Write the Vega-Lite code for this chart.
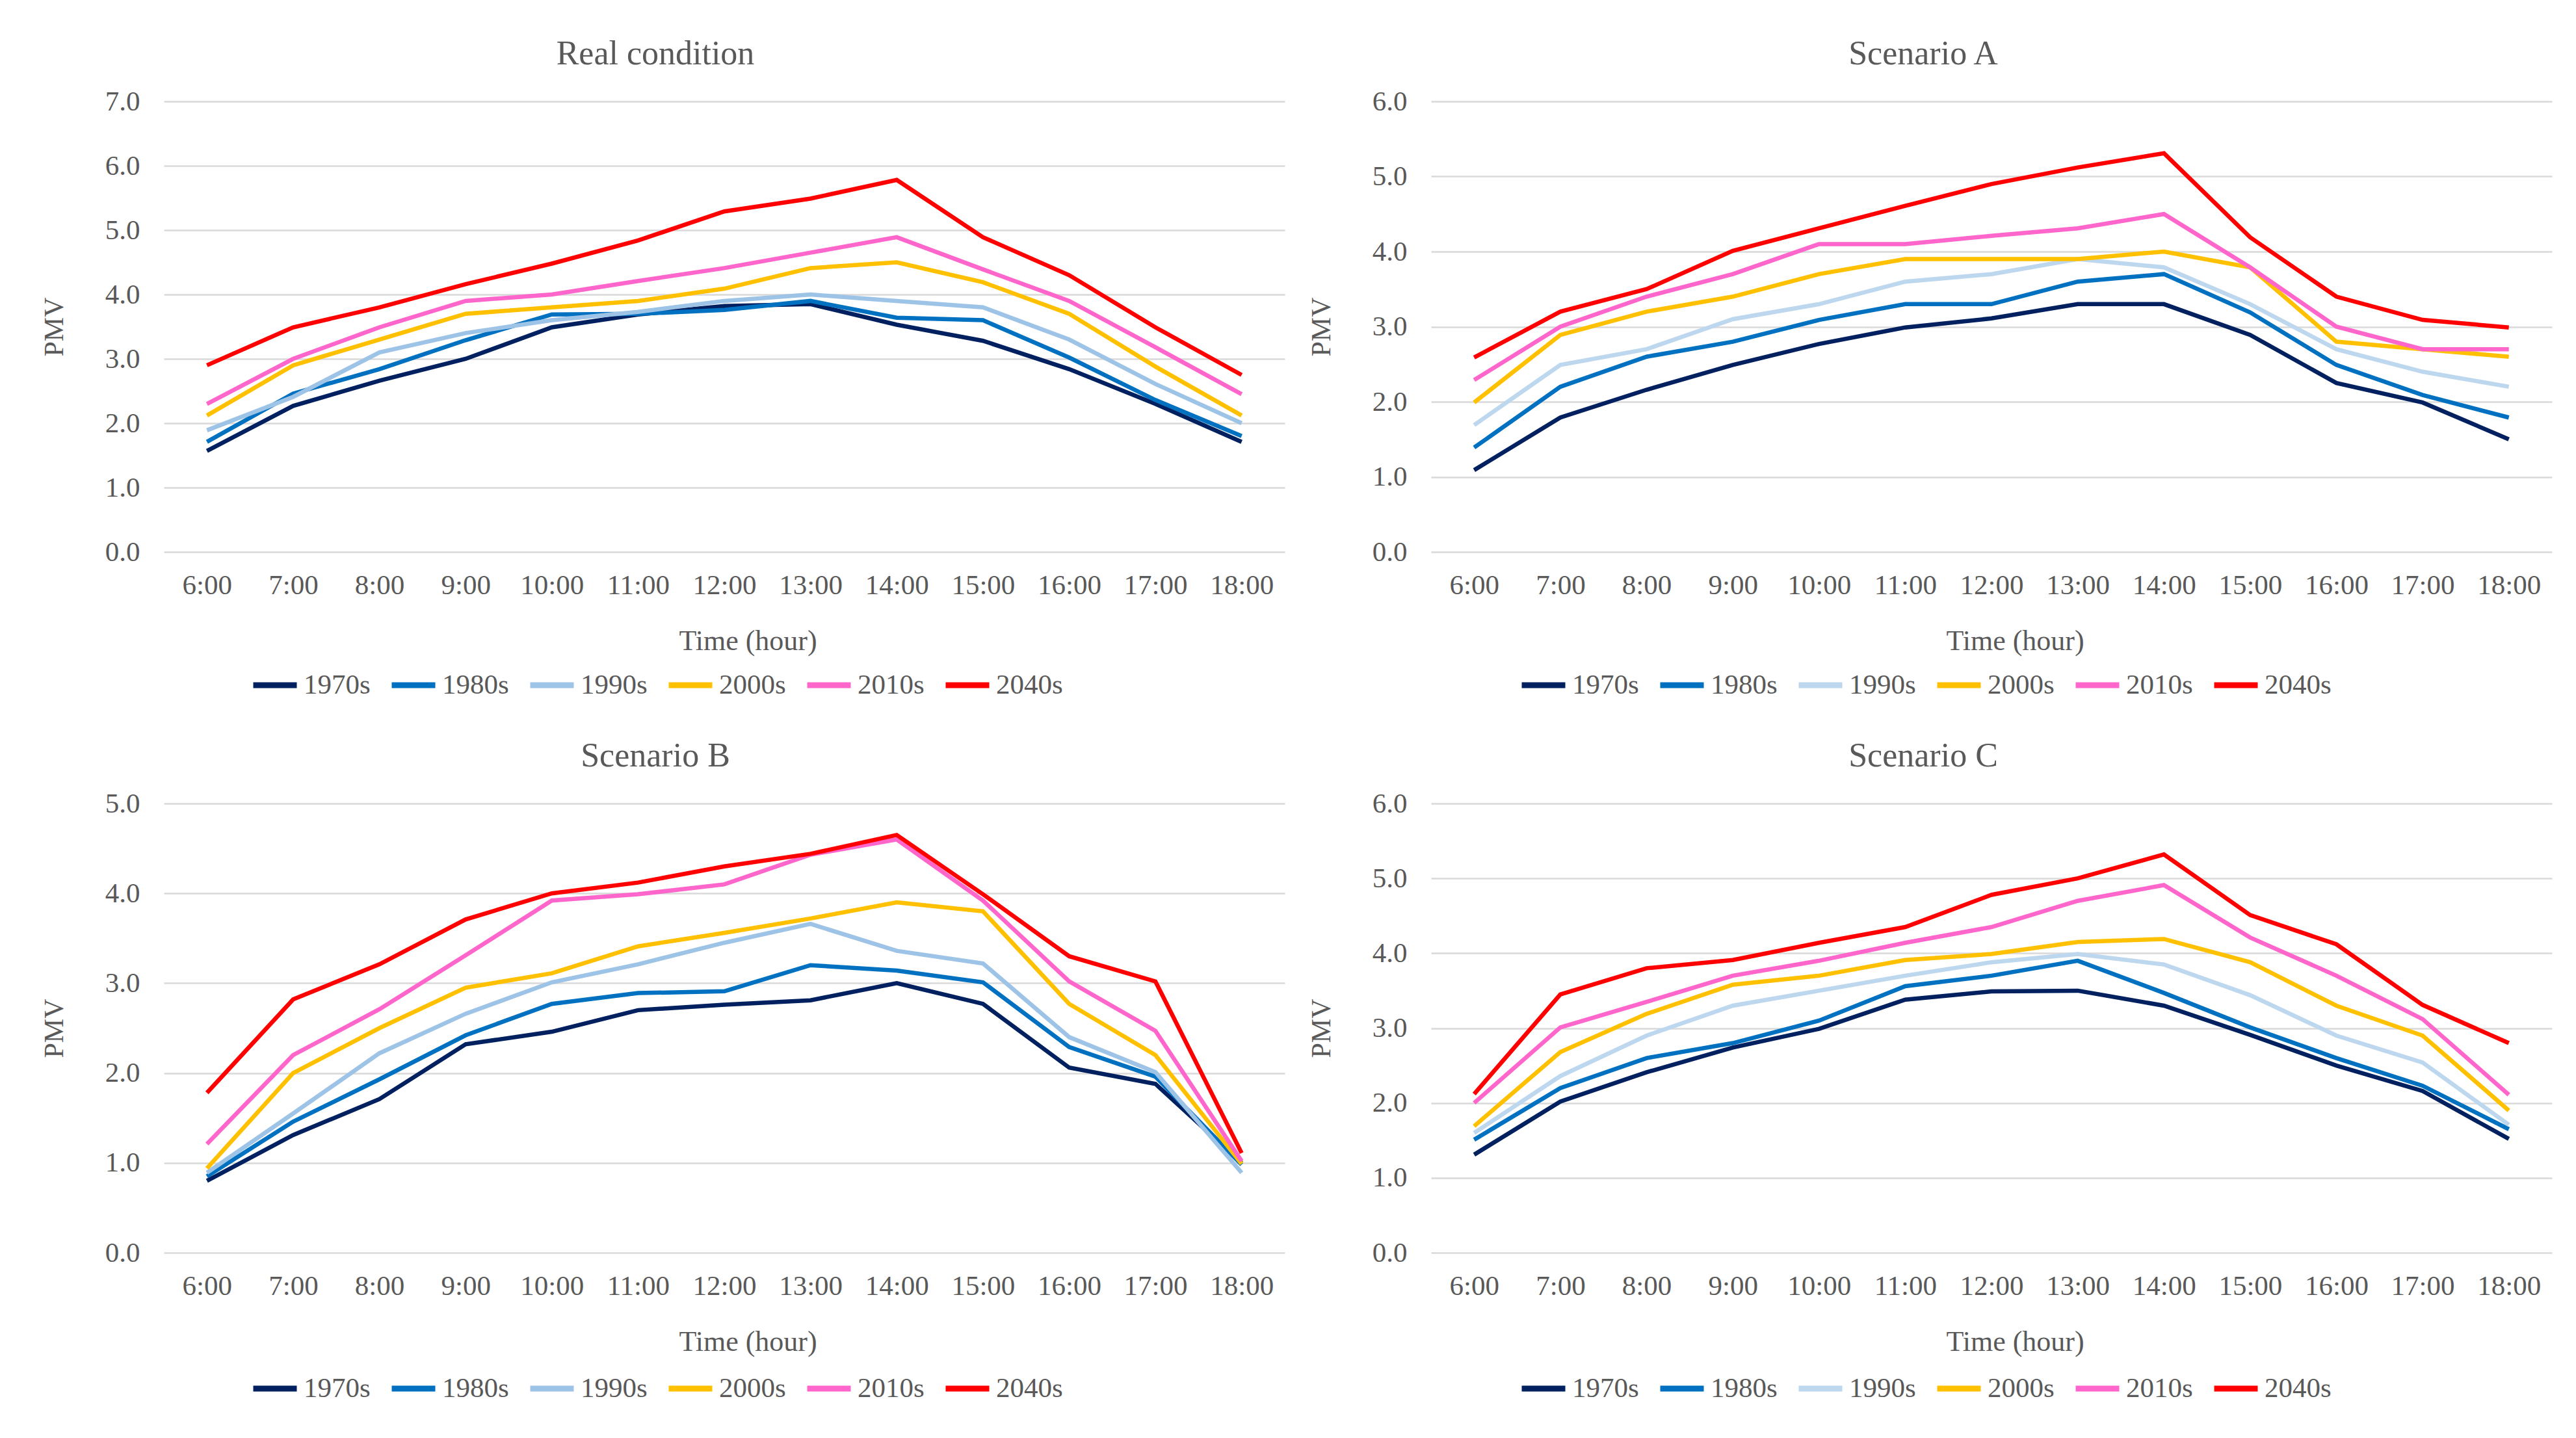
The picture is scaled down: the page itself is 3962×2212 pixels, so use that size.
{
"$schema": "https://vega.github.io/schema/vega-lite/v6.json",
"background": "white",
"padding": {"left": 62, "top": 57, "right": 5, "bottom": 5},
"spacing": 61,
"datasets": {"d": [
{"panel":"R","decade":"1970s","time":"6:00","pmv":1.57},{"panel":"R","decade":"1970s","time":"7:00","pmv":2.27},{"panel":"R","decade":"1970s","time":"8:00","pmv":2.66},{"panel":"R","decade":"1970s","time":"9:00","pmv":3.0},{"panel":"R","decade":"1970s","time":"10:00","pmv":3.49},{"panel":"R","decade":"1970s","time":"11:00","pmv":3.69},{"panel":"R","decade":"1970s","time":"12:00","pmv":3.82},{"panel":"R","decade":"1970s","time":"13:00","pmv":3.85},{"panel":"R","decade":"1970s","time":"14:00","pmv":3.53},{"panel":"R","decade":"1970s","time":"15:00","pmv":3.28},{"panel":"R","decade":"1970s","time":"16:00","pmv":2.84},{"panel":"R","decade":"1970s","time":"17:00","pmv":2.3},{"panel":"R","decade":"1970s","time":"18:00","pmv":1.71},
{"panel":"R","decade":"1980s","time":"6:00","pmv":1.71},{"panel":"R","decade":"1980s","time":"7:00","pmv":2.46},{"panel":"R","decade":"1980s","time":"8:00","pmv":2.84},{"panel":"R","decade":"1980s","time":"9:00","pmv":3.29},{"panel":"R","decade":"1980s","time":"10:00","pmv":3.69},{"panel":"R","decade":"1980s","time":"11:00","pmv":3.7},{"panel":"R","decade":"1980s","time":"12:00","pmv":3.76},{"panel":"R","decade":"1980s","time":"13:00","pmv":3.9},{"panel":"R","decade":"1980s","time":"14:00","pmv":3.64},{"panel":"R","decade":"1980s","time":"15:00","pmv":3.6},{"panel":"R","decade":"1980s","time":"16:00","pmv":3.02},{"panel":"R","decade":"1980s","time":"17:00","pmv":2.36},{"panel":"R","decade":"1980s","time":"18:00","pmv":1.8},
{"panel":"R","decade":"1990s","time":"6:00","pmv":1.89},{"panel":"R","decade":"1990s","time":"7:00","pmv":2.41},{"panel":"R","decade":"1990s","time":"8:00","pmv":3.1},{"panel":"R","decade":"1990s","time":"9:00","pmv":3.4},{"panel":"R","decade":"1990s","time":"10:00","pmv":3.6},{"panel":"R","decade":"1990s","time":"11:00","pmv":3.73},{"panel":"R","decade":"1990s","time":"12:00","pmv":3.9},{"panel":"R","decade":"1990s","time":"13:00","pmv":4.0},{"panel":"R","decade":"1990s","time":"14:00","pmv":3.9},{"panel":"R","decade":"1990s","time":"15:00","pmv":3.8},{"panel":"R","decade":"1990s","time":"16:00","pmv":3.3},{"panel":"R","decade":"1990s","time":"17:00","pmv":2.61},{"panel":"R","decade":"1990s","time":"18:00","pmv":2.0},
{"panel":"R","decade":"2000s","time":"6:00","pmv":2.12},{"panel":"R","decade":"2000s","time":"7:00","pmv":2.9},{"panel":"R","decade":"2000s","time":"8:00","pmv":3.3},{"panel":"R","decade":"2000s","time":"9:00","pmv":3.7},{"panel":"R","decade":"2000s","time":"10:00","pmv":3.8},{"panel":"R","decade":"2000s","time":"11:00","pmv":3.9},{"panel":"R","decade":"2000s","time":"12:00","pmv":4.09},{"panel":"R","decade":"2000s","time":"13:00","pmv":4.41},{"panel":"R","decade":"2000s","time":"14:00","pmv":4.5},{"panel":"R","decade":"2000s","time":"15:00","pmv":4.19},{"panel":"R","decade":"2000s","time":"16:00","pmv":3.7},{"panel":"R","decade":"2000s","time":"17:00","pmv":2.88},{"panel":"R","decade":"2000s","time":"18:00","pmv":2.12},
{"panel":"R","decade":"2010s","time":"6:00","pmv":2.3},{"panel":"R","decade":"2010s","time":"7:00","pmv":3.0},{"panel":"R","decade":"2010s","time":"8:00","pmv":3.49},{"panel":"R","decade":"2010s","time":"9:00","pmv":3.9},{"panel":"R","decade":"2010s","time":"10:00","pmv":4.0},{"panel":"R","decade":"2010s","time":"11:00","pmv":4.21},{"panel":"R","decade":"2010s","time":"12:00","pmv":4.41},{"panel":"R","decade":"2010s","time":"13:00","pmv":4.65},{"panel":"R","decade":"2010s","time":"14:00","pmv":4.89},{"panel":"R","decade":"2010s","time":"15:00","pmv":4.39},{"panel":"R","decade":"2010s","time":"16:00","pmv":3.9},{"panel":"R","decade":"2010s","time":"17:00","pmv":3.18},{"panel":"R","decade":"2010s","time":"18:00","pmv":2.45},
{"panel":"R","decade":"2040s","time":"6:00","pmv":2.9},{"panel":"R","decade":"2040s","time":"7:00","pmv":3.49},{"panel":"R","decade":"2040s","time":"8:00","pmv":3.8},{"panel":"R","decade":"2040s","time":"9:00","pmv":4.16},{"panel":"R","decade":"2040s","time":"10:00","pmv":4.48},{"panel":"R","decade":"2040s","time":"11:00","pmv":4.84},{"panel":"R","decade":"2040s","time":"12:00","pmv":5.29},{"panel":"R","decade":"2040s","time":"13:00","pmv":5.49},{"panel":"R","decade":"2040s","time":"14:00","pmv":5.78},{"panel":"R","decade":"2040s","time":"15:00","pmv":4.89},{"panel":"R","decade":"2040s","time":"16:00","pmv":4.3},{"panel":"R","decade":"2040s","time":"17:00","pmv":3.49},{"panel":"R","decade":"2040s","time":"18:00","pmv":2.75},
{"panel":"A","decade":"1970s","time":"6:00","pmv":1.09},{"panel":"A","decade":"1970s","time":"7:00","pmv":1.79},{"panel":"A","decade":"1970s","time":"8:00","pmv":2.16},{"panel":"A","decade":"1970s","time":"9:00","pmv":2.49},{"panel":"A","decade":"1970s","time":"10:00","pmv":2.77},{"panel":"A","decade":"1970s","time":"11:00","pmv":2.99},{"panel":"A","decade":"1970s","time":"12:00","pmv":3.11},{"panel":"A","decade":"1970s","time":"13:00","pmv":3.3},{"panel":"A","decade":"1970s","time":"14:00","pmv":3.3},{"panel":"A","decade":"1970s","time":"15:00","pmv":2.89},{"panel":"A","decade":"1970s","time":"16:00","pmv":2.25},{"panel":"A","decade":"1970s","time":"17:00","pmv":1.99},{"panel":"A","decade":"1970s","time":"18:00","pmv":1.5},
{"panel":"A","decade":"1980s","time":"6:00","pmv":1.39},{"panel":"A","decade":"1980s","time":"7:00","pmv":2.2},{"panel":"A","decade":"1980s","time":"8:00","pmv":2.6},{"panel":"A","decade":"1980s","time":"9:00","pmv":2.8},{"panel":"A","decade":"1980s","time":"10:00","pmv":3.09},{"panel":"A","decade":"1980s","time":"11:00","pmv":3.3},{"panel":"A","decade":"1980s","time":"12:00","pmv":3.3},{"panel":"A","decade":"1980s","time":"13:00","pmv":3.6},{"panel":"A","decade":"1980s","time":"14:00","pmv":3.7},{"panel":"A","decade":"1980s","time":"15:00","pmv":3.19},{"panel":"A","decade":"1980s","time":"16:00","pmv":2.49},{"panel":"A","decade":"1980s","time":"17:00","pmv":2.09},{"panel":"A","decade":"1980s","time":"18:00","pmv":1.79},
{"panel":"A","decade":"1990s","time":"6:00","pmv":1.69},{"panel":"A","decade":"1990s","time":"7:00","pmv":2.49},{"panel":"A","decade":"1990s","time":"8:00","pmv":2.7},{"panel":"A","decade":"1990s","time":"9:00","pmv":3.1},{"panel":"A","decade":"1990s","time":"10:00","pmv":3.3},{"panel":"A","decade":"1990s","time":"11:00","pmv":3.6},{"panel":"A","decade":"1990s","time":"12:00","pmv":3.7},{"panel":"A","decade":"1990s","time":"13:00","pmv":3.9},{"panel":"A","decade":"1990s","time":"14:00","pmv":3.79},{"panel":"A","decade":"1990s","time":"15:00","pmv":3.3},{"panel":"A","decade":"1990s","time":"16:00","pmv":2.7},{"panel":"A","decade":"1990s","time":"17:00","pmv":2.4},{"panel":"A","decade":"1990s","time":"18:00","pmv":2.2},
{"panel":"A","decade":"2000s","time":"6:00","pmv":1.99},{"panel":"A","decade":"2000s","time":"7:00","pmv":2.89},{"panel":"A","decade":"2000s","time":"8:00","pmv":3.2},{"panel":"A","decade":"2000s","time":"9:00","pmv":3.4},{"panel":"A","decade":"2000s","time":"10:00","pmv":3.7},{"panel":"A","decade":"2000s","time":"11:00","pmv":3.9},{"panel":"A","decade":"2000s","time":"12:00","pmv":3.9},{"panel":"A","decade":"2000s","time":"13:00","pmv":3.9},{"panel":"A","decade":"2000s","time":"14:00","pmv":4.0},{"panel":"A","decade":"2000s","time":"15:00","pmv":3.79},{"panel":"A","decade":"2000s","time":"16:00","pmv":2.8},{"panel":"A","decade":"2000s","time":"17:00","pmv":2.7},{"panel":"A","decade":"2000s","time":"18:00","pmv":2.6},
{"panel":"A","decade":"2010s","time":"6:00","pmv":2.29},{"panel":"A","decade":"2010s","time":"7:00","pmv":3.0},{"panel":"A","decade":"2010s","time":"8:00","pmv":3.4},{"panel":"A","decade":"2010s","time":"9:00","pmv":3.7},{"panel":"A","decade":"2010s","time":"10:00","pmv":4.1},{"panel":"A","decade":"2010s","time":"11:00","pmv":4.1},{"panel":"A","decade":"2010s","time":"12:00","pmv":4.21},{"panel":"A","decade":"2010s","time":"13:00","pmv":4.31},{"panel":"A","decade":"2010s","time":"14:00","pmv":4.5},{"panel":"A","decade":"2010s","time":"15:00","pmv":3.79},{"panel":"A","decade":"2010s","time":"16:00","pmv":3.0},{"panel":"A","decade":"2010s","time":"17:00","pmv":2.7},{"panel":"A","decade":"2010s","time":"18:00","pmv":2.7},
{"panel":"A","decade":"2040s","time":"6:00","pmv":2.59},{"panel":"A","decade":"2040s","time":"7:00","pmv":3.2},{"panel":"A","decade":"2040s","time":"8:00","pmv":3.5},{"panel":"A","decade":"2040s","time":"9:00","pmv":4.01},{"panel":"A","decade":"2040s","time":"10:00","pmv":4.31},{"panel":"A","decade":"2040s","time":"11:00","pmv":4.61},{"panel":"A","decade":"2040s","time":"12:00","pmv":4.9},{"panel":"A","decade":"2040s","time":"13:00","pmv":5.12},{"panel":"A","decade":"2040s","time":"14:00","pmv":5.31},{"panel":"A","decade":"2040s","time":"15:00","pmv":4.19},{"panel":"A","decade":"2040s","time":"16:00","pmv":3.4},{"panel":"A","decade":"2040s","time":"17:00","pmv":3.09},{"panel":"A","decade":"2040s","time":"18:00","pmv":2.99},
{"panel":"B","decade":"1970s","time":"6:00","pmv":0.8},{"panel":"B","decade":"1970s","time":"7:00","pmv":1.31},{"panel":"B","decade":"1970s","time":"8:00","pmv":1.71},{"panel":"B","decade":"1970s","time":"9:00","pmv":2.32},{"panel":"B","decade":"1970s","time":"10:00","pmv":2.46},{"panel":"B","decade":"1970s","time":"11:00","pmv":2.7},{"panel":"B","decade":"1970s","time":"12:00","pmv":2.76},{"panel":"B","decade":"1970s","time":"13:00","pmv":2.81},{"panel":"B","decade":"1970s","time":"14:00","pmv":3.0},{"panel":"B","decade":"1970s","time":"15:00","pmv":2.77},{"panel":"B","decade":"1970s","time":"16:00","pmv":2.06},{"panel":"B","decade":"1970s","time":"17:00","pmv":1.88},{"panel":"B","decade":"1970s","time":"18:00","pmv":1.0},
{"panel":"B","decade":"1980s","time":"6:00","pmv":0.85},{"panel":"B","decade":"1980s","time":"7:00","pmv":1.46},{"panel":"B","decade":"1980s","time":"8:00","pmv":1.93},{"panel":"B","decade":"1980s","time":"9:00","pmv":2.42},{"panel":"B","decade":"1980s","time":"10:00","pmv":2.77},{"panel":"B","decade":"1980s","time":"11:00","pmv":2.89},{"panel":"B","decade":"1980s","time":"12:00","pmv":2.91},{"panel":"B","decade":"1980s","time":"13:00","pmv":3.2},{"panel":"B","decade":"1980s","time":"14:00","pmv":3.14},{"panel":"B","decade":"1980s","time":"15:00","pmv":3.01},{"panel":"B","decade":"1980s","time":"16:00","pmv":2.29},{"panel":"B","decade":"1980s","time":"17:00","pmv":1.96},{"panel":"B","decade":"1980s","time":"18:00","pmv":0.98},
{"panel":"B","decade":"1990s","time":"6:00","pmv":0.89},{"panel":"B","decade":"1990s","time":"7:00","pmv":1.55},{"panel":"B","decade":"1990s","time":"8:00","pmv":2.22},{"panel":"B","decade":"1990s","time":"9:00","pmv":2.66},{"panel":"B","decade":"1990s","time":"10:00","pmv":3.01},{"panel":"B","decade":"1990s","time":"11:00","pmv":3.21},{"panel":"B","decade":"1990s","time":"12:00","pmv":3.45},{"panel":"B","decade":"1990s","time":"13:00","pmv":3.66},{"panel":"B","decade":"1990s","time":"14:00","pmv":3.36},{"panel":"B","decade":"1990s","time":"15:00","pmv":3.22},{"panel":"B","decade":"1990s","time":"16:00","pmv":2.4},{"panel":"B","decade":"1990s","time":"17:00","pmv":2.01},{"panel":"B","decade":"1990s","time":"18:00","pmv":0.89},
{"panel":"B","decade":"2000s","time":"6:00","pmv":0.94},{"panel":"B","decade":"2000s","time":"7:00","pmv":2.0},{"panel":"B","decade":"2000s","time":"8:00","pmv":2.5},{"panel":"B","decade":"2000s","time":"9:00","pmv":2.95},{"panel":"B","decade":"2000s","time":"10:00","pmv":3.11},{"panel":"B","decade":"2000s","time":"11:00","pmv":3.41},{"panel":"B","decade":"2000s","time":"12:00","pmv":3.56},{"panel":"B","decade":"2000s","time":"13:00","pmv":3.72},{"panel":"B","decade":"2000s","time":"14:00","pmv":3.9},{"panel":"B","decade":"2000s","time":"15:00","pmv":3.8},{"panel":"B","decade":"2000s","time":"16:00","pmv":2.77},{"panel":"B","decade":"2000s","time":"17:00","pmv":2.2},{"panel":"B","decade":"2000s","time":"18:00","pmv":0.99},
{"panel":"B","decade":"2010s","time":"6:00","pmv":1.21},{"panel":"B","decade":"2010s","time":"7:00","pmv":2.2},{"panel":"B","decade":"2010s","time":"8:00","pmv":2.71},{"panel":"B","decade":"2010s","time":"9:00","pmv":3.31},{"panel":"B","decade":"2010s","time":"10:00","pmv":3.92},{"panel":"B","decade":"2010s","time":"11:00","pmv":3.99},{"panel":"B","decade":"2010s","time":"12:00","pmv":4.1},{"panel":"B","decade":"2010s","time":"13:00","pmv":4.43},{"panel":"B","decade":"2010s","time":"14:00","pmv":4.6},{"panel":"B","decade":"2010s","time":"15:00","pmv":3.92},{"panel":"B","decade":"2010s","time":"16:00","pmv":3.02},{"panel":"B","decade":"2010s","time":"17:00","pmv":2.47},{"panel":"B","decade":"2010s","time":"18:00","pmv":1.02},
{"panel":"B","decade":"2040s","time":"6:00","pmv":1.78},{"panel":"B","decade":"2040s","time":"7:00","pmv":2.82},{"panel":"B","decade":"2040s","time":"8:00","pmv":3.21},{"panel":"B","decade":"2040s","time":"9:00","pmv":3.71},{"panel":"B","decade":"2040s","time":"10:00","pmv":4.0},{"panel":"B","decade":"2040s","time":"11:00","pmv":4.12},{"panel":"B","decade":"2040s","time":"12:00","pmv":4.3},{"panel":"B","decade":"2040s","time":"13:00","pmv":4.44},{"panel":"B","decade":"2040s","time":"14:00","pmv":4.65},{"panel":"B","decade":"2040s","time":"15:00","pmv":3.99},{"panel":"B","decade":"2040s","time":"16:00","pmv":3.3},{"panel":"B","decade":"2040s","time":"17:00","pmv":3.02},{"panel":"B","decade":"2040s","time":"18:00","pmv":1.11},
{"panel":"C","decade":"1970s","time":"6:00","pmv":1.31},{"panel":"C","decade":"1970s","time":"7:00","pmv":2.02},{"panel":"C","decade":"1970s","time":"8:00","pmv":2.41},{"panel":"C","decade":"1970s","time":"9:00","pmv":2.74},{"panel":"C","decade":"1970s","time":"10:00","pmv":2.99},{"panel":"C","decade":"1970s","time":"11:00","pmv":3.38},{"panel":"C","decade":"1970s","time":"12:00","pmv":3.49},{"panel":"C","decade":"1970s","time":"13:00","pmv":3.5},{"panel":"C","decade":"1970s","time":"14:00","pmv":3.3},{"panel":"C","decade":"1970s","time":"15:00","pmv":2.91},{"panel":"C","decade":"1970s","time":"16:00","pmv":2.5},{"panel":"C","decade":"1970s","time":"17:00","pmv":2.16},{"panel":"C","decade":"1970s","time":"18:00","pmv":1.52},
{"panel":"C","decade":"1980s","time":"6:00","pmv":1.51},{"panel":"C","decade":"1980s","time":"7:00","pmv":2.2},{"panel":"C","decade":"1980s","time":"8:00","pmv":2.6},{"panel":"C","decade":"1980s","time":"9:00","pmv":2.8},{"panel":"C","decade":"1980s","time":"10:00","pmv":3.1},{"panel":"C","decade":"1980s","time":"11:00","pmv":3.56},{"panel":"C","decade":"1980s","time":"12:00","pmv":3.7},{"panel":"C","decade":"1980s","time":"13:00","pmv":3.9},{"panel":"C","decade":"1980s","time":"14:00","pmv":3.47},{"panel":"C","decade":"1980s","time":"15:00","pmv":3.01},{"panel":"C","decade":"1980s","time":"16:00","pmv":2.6},{"panel":"C","decade":"1980s","time":"17:00","pmv":2.23},{"panel":"C","decade":"1980s","time":"18:00","pmv":1.65},
{"panel":"C","decade":"1990s","time":"6:00","pmv":1.6},{"panel":"C","decade":"1990s","time":"7:00","pmv":2.36},{"panel":"C","decade":"1990s","time":"8:00","pmv":2.9},{"panel":"C","decade":"1990s","time":"9:00","pmv":3.3},{"panel":"C","decade":"1990s","time":"10:00","pmv":3.5},{"panel":"C","decade":"1990s","time":"11:00","pmv":3.7},{"panel":"C","decade":"1990s","time":"12:00","pmv":3.88},{"panel":"C","decade":"1990s","time":"13:00","pmv":3.99},{"panel":"C","decade":"1990s","time":"14:00","pmv":3.85},{"panel":"C","decade":"1990s","time":"15:00","pmv":3.44},{"panel":"C","decade":"1990s","time":"16:00","pmv":2.9},{"panel":"C","decade":"1990s","time":"17:00","pmv":2.54},{"panel":"C","decade":"1990s","time":"18:00","pmv":1.71},
{"panel":"C","decade":"2000s","time":"6:00","pmv":1.69},{"panel":"C","decade":"2000s","time":"7:00","pmv":2.68},{"panel":"C","decade":"2000s","time":"8:00","pmv":3.19},{"panel":"C","decade":"2000s","time":"9:00","pmv":3.58},{"panel":"C","decade":"2000s","time":"10:00","pmv":3.7},{"panel":"C","decade":"2000s","time":"11:00","pmv":3.91},{"panel":"C","decade":"2000s","time":"12:00","pmv":3.99},{"panel":"C","decade":"2000s","time":"13:00","pmv":4.15},{"panel":"C","decade":"2000s","time":"14:00","pmv":4.19},{"panel":"C","decade":"2000s","time":"15:00","pmv":3.88},{"panel":"C","decade":"2000s","time":"16:00","pmv":3.3},{"panel":"C","decade":"2000s","time":"17:00","pmv":2.9},{"panel":"C","decade":"2000s","time":"18:00","pmv":1.9},
{"panel":"C","decade":"2010s","time":"6:00","pmv":2.0},{"panel":"C","decade":"2010s","time":"7:00","pmv":3.01},{"panel":"C","decade":"2010s","time":"8:00","pmv":3.35},{"panel":"C","decade":"2010s","time":"9:00","pmv":3.7},{"panel":"C","decade":"2010s","time":"10:00","pmv":3.9},{"panel":"C","decade":"2010s","time":"11:00","pmv":4.14},{"panel":"C","decade":"2010s","time":"12:00","pmv":4.35},{"panel":"C","decade":"2010s","time":"13:00","pmv":4.7},{"panel":"C","decade":"2010s","time":"14:00","pmv":4.91},{"panel":"C","decade":"2010s","time":"15:00","pmv":4.21},{"panel":"C","decade":"2010s","time":"16:00","pmv":3.7},{"panel":"C","decade":"2010s","time":"17:00","pmv":3.12},{"panel":"C","decade":"2010s","time":"18:00","pmv":2.11},
{"panel":"C","decade":"2040s","time":"6:00","pmv":2.12},{"panel":"C","decade":"2040s","time":"7:00","pmv":3.45},{"panel":"C","decade":"2040s","time":"8:00","pmv":3.8},{"panel":"C","decade":"2040s","time":"9:00","pmv":3.91},{"panel":"C","decade":"2040s","time":"10:00","pmv":4.14},{"panel":"C","decade":"2040s","time":"11:00","pmv":4.35},{"panel":"C","decade":"2040s","time":"12:00","pmv":4.78},{"panel":"C","decade":"2040s","time":"13:00","pmv":5.0},{"panel":"C","decade":"2040s","time":"14:00","pmv":5.32},{"panel":"C","decade":"2040s","time":"15:00","pmv":4.51},{"panel":"C","decade":"2040s","time":"16:00","pmv":4.12},{"panel":"C","decade":"2040s","time":"17:00","pmv":3.31},{"panel":"C","decade":"2040s","time":"18:00","pmv":2.8}
]},
"resolve": {"scale": {"y": "independent", "color": "independent", "x": "independent"}, "legend": {"color": "independent"}, "axis": {"x": "independent", "y": "independent"}},
"vconcat": [
{"hconcat": [
{"width": 1724, "height": 693, "title": {"text": "Real condition", "dx": -106},
 "data": {"name": "d"}, "transform": [{"filter": "datum.panel === 'R'"}],
 "mark": {"type": "line", "strokeWidth": 6.5},
 "encoding": {
  "x": {"field": "time", "type": "ordinal", "sort": ["6:00","7:00","8:00","9:00","10:00","11:00","12:00","13:00","14:00","15:00","16:00","17:00","18:00"], "axis": {"title": "Time (hour)", "titleX": 898}},
  "y": {"field": "pmv", "type": "quantitative", "scale": {"domain": [0, 7]}, "axis": {"title": "PMV", "values": [0,1,2,3,4,5,6,7]}},
  "color": {"field": "decade", "type": "nominal", "scale": {"domain": ["1970s","1980s","1990s","2000s","2010s","2040s"], "range": ["#002060","#0070C0","#9DC3E6","#FFC000","#FF66CC","#FF0000"]}, "legend": {"orient": "none", "legendX": 133, "legendY": 860, "direction": "horizontal", "columns": 6}}
 }},
{"width": 1724, "height": 693, "title": {"text": "Scenario A", "dx": -105},
 "data": {"name": "d"}, "transform": [{"filter": "datum.panel === 'A'"}],
 "mark": {"type": "line", "strokeWidth": 6.5},
 "encoding": {
  "x": {"field": "time", "type": "ordinal", "sort": ["6:00","7:00","8:00","9:00","10:00","11:00","12:00","13:00","14:00","15:00","16:00","17:00","18:00"], "axis": {"title": "Time (hour)", "titleX": 898}},
  "y": {"field": "pmv", "type": "quantitative", "scale": {"domain": [0, 6]}, "axis": {"title": "PMV", "values": [0,1,2,3,4,5,6]}},
  "color": {"field": "decade", "type": "nominal", "scale": {"domain": ["1970s","1980s","1990s","2000s","2010s","2040s"], "range": ["#002060","#0070C0","#BDD7EE","#FFC000","#FF66CC","#FF0000"]}, "legend": {"orient": "none", "legendX": 135, "legendY": 860, "direction": "horizontal", "columns": 6}}
 }}
], "spacing": 35, "resolve": {"scale": {"y": "independent", "color": "independent", "x": "independent"}, "legend": {"color": "independent"}}},
{"hconcat": [
{"width": 1724, "height": 691, "title": {"text": "Scenario B", "dx": -106},
 "data": {"name": "d"}, "transform": [{"filter": "datum.panel === 'B'"}],
 "mark": {"type": "line", "strokeWidth": 6.5},
 "encoding": {
  "x": {"field": "time", "type": "ordinal", "sort": ["6:00","7:00","8:00","9:00","10:00","11:00","12:00","13:00","14:00","15:00","16:00","17:00","18:00"], "axis": {"title": "Time (hour)", "titleX": 898}},
  "y": {"field": "pmv", "type": "quantitative", "scale": {"domain": [0, 5]}, "axis": {"title": "PMV", "values": [0,1,2,3,4,5]}},
  "color": {"field": "decade", "type": "nominal", "scale": {"domain": ["1970s","1980s","1990s","2000s","2010s","2040s"], "range": ["#002060","#0070C0","#9DC3E6","#FFC000","#FF66CC","#FF0000"]}, "legend": {"orient": "none", "legendX": 133, "legendY": 862, "direction": "horizontal", "columns": 6}}
 }},
{"width": 1724, "height": 691, "title": {"text": "Scenario C", "dx": -105},
 "data": {"name": "d"}, "transform": [{"filter": "datum.panel === 'C'"}],
 "mark": {"type": "line", "strokeWidth": 6.5},
 "encoding": {
  "x": {"field": "time", "type": "ordinal", "sort": ["6:00","7:00","8:00","9:00","10:00","11:00","12:00","13:00","14:00","15:00","16:00","17:00","18:00"], "axis": {"title": "Time (hour)", "titleX": 898}},
  "y": {"field": "pmv", "type": "quantitative", "scale": {"domain": [0, 6]}, "axis": {"title": "PMV", "values": [0,1,2,3,4,5,6]}},
  "color": {"field": "decade", "type": "nominal", "scale": {"domain": ["1970s","1980s","1990s","2000s","2010s","2040s"], "range": ["#002060","#0070C0","#BDD7EE","#FFC000","#FF66CC","#FF0000"]}, "legend": {"orient": "none", "legendX": 135, "legendY": 862, "direction": "horizontal", "columns": 6}}
 }}
], "spacing": 35, "resolve": {"scale": {"y": "independent", "color": "independent", "x": "independent"}, "legend": {"color": "independent"}}}
],
"config": {
 "font": "Liberation Serif",
 "view": {"stroke": null},
 "title": {"fontSize": 52, "fontWeight": "normal", "color": "#595959", "font": "Liberation Serif", "offset": 25, "anchor": "middle"},
 "axis": {"labelFont": "Liberation Serif", "titleFont": "Liberation Serif", "labelColor": "#595959", "titleColor": "#595959", "labelFontSize": 43, "titleFontSize": 44, "titleFontWeight": "normal", "ticks": false, "domain": false, "gridColor": "#D9D9D9", "gridWidth": 2.5},
 "axisX": {"grid": false, "labelAngle": 0, "labelPadding": 30, "titlePadding": 42},
 "axisY": {"grid": true, "format": ".1f", "labelPadding": 37, "titlePadding": 56, "titleFontSize": 42},
 "legend": {"title": null, "labelFont": "Liberation Serif", "labelFontSize": 43, "labelColor": "#595959", "symbolType": "stroke", "symbolSize": 4489, "symbolStrokeWidth": 9, "labelOffset": 6, "columnPadding": 14}
}
}
